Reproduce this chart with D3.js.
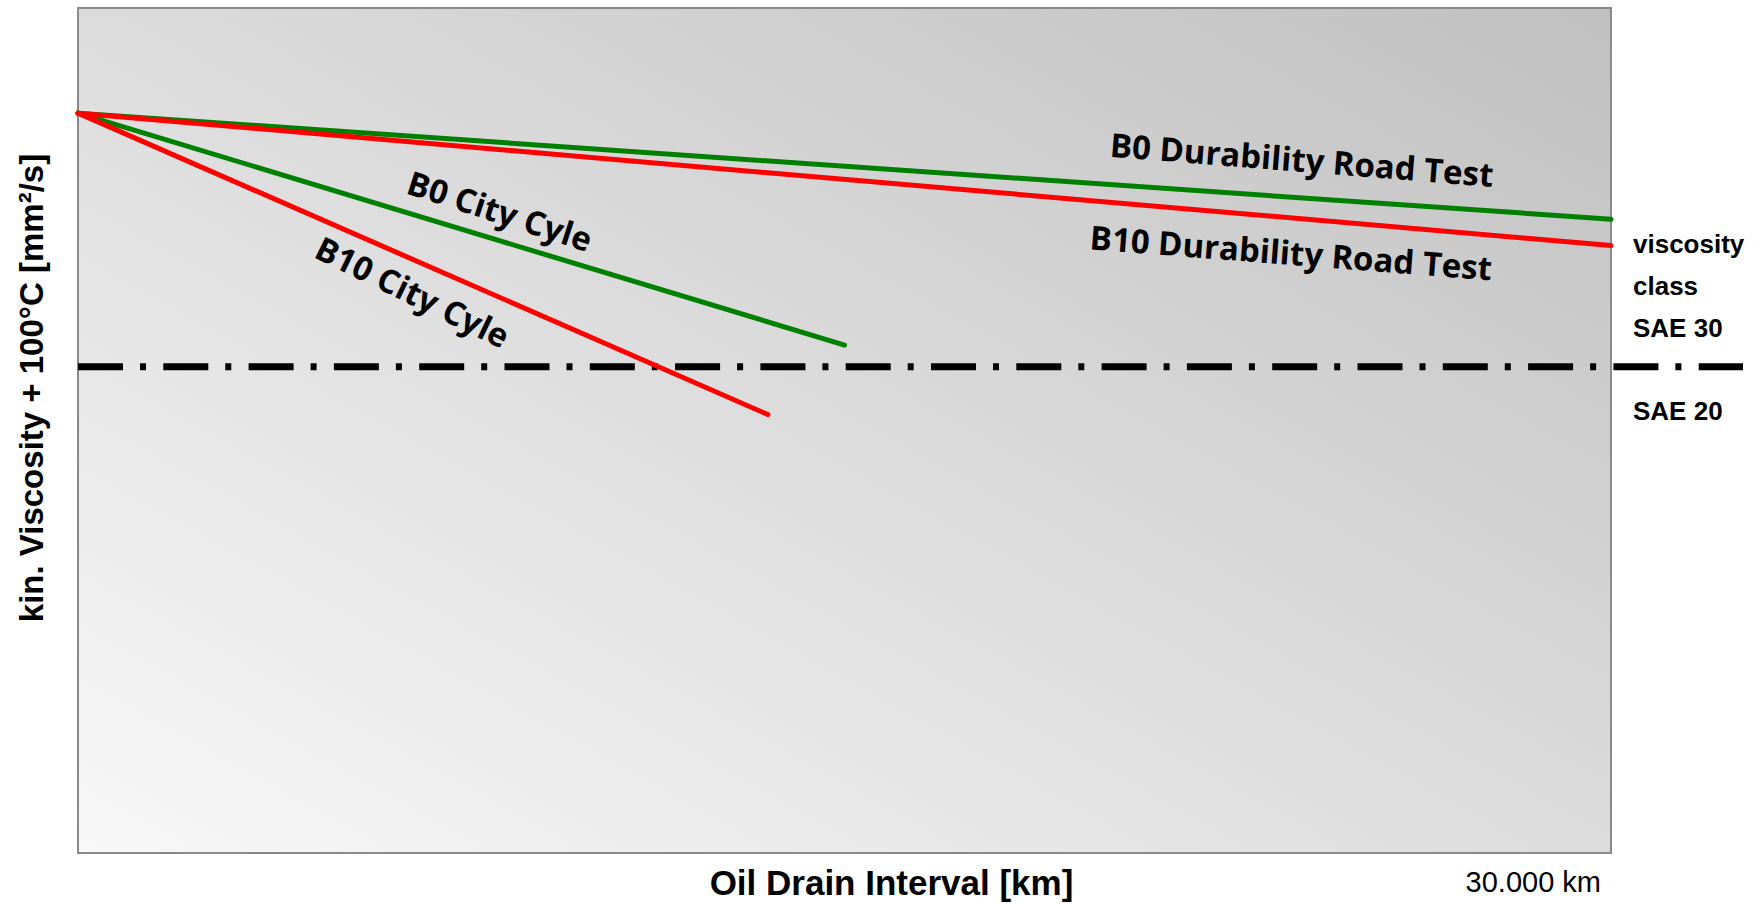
<!DOCTYPE html>
<html>
<head>
<meta charset="utf-8">
<script src="https://cdn.jsdelivr.net/npm/d3@7"></script>
<style>
  html, body { margin: 0; padding: 0; background: #fff; }
  #chart { width: 1764px; height: 904px; }
  .axis-title { font-family: "Liberation Sans", Arial, sans-serif; font-weight: bold; fill: #000; }
  .line-label { font-family: "Open Sans", sans-serif; font-weight: 700; fill: #000; }
</style>
</head>
<body>
<div id="chart"></div>
<script>
// Data (km, kin. viscosity mm²/s)
const seriesNames = ['B0 Durability Road Test', 'B10 Durability Road Test', 'B0 City Cyle', 'B10 City Cyle'];
const seriesKm = [[0, 30000], [0, 30000], [0, 15000], [0, 13500]];
const seriesVisc = [[11.88, 10.75], [11.88, 10.47], [11.88, 9.41], [11.88, 8.67]];
const sae30Limit = 9.18;
const classLabels = ['viscosity', 'class', 'SAE 30'];
const lowerClassLabel = 'SAE 20';
const xEndLabel = '30.000 km';

const width = 1764, height = 904;
const margin = { top: 8, right: 153, bottom: 51, left: 78 };
const chartWidth = width - margin.left - margin.right;
const chartHeight = height - margin.top - margin.bottom;

const colors = ['#008000', '#ff0000', '#008000', '#ff0000'];
// label placement: km along the line, pixel offset, rotation
const labelPlace = [
  { km: 23930, dy: -26, angle: 4.5 },
  { km: 23720, dy: 47, angle: 4.4 },
  { km: 8180, dy: -17, angle: 18 },
  { km: 6440, dy: 46, angle: 26 }
];

const svg = d3.select('#chart').append('svg')
  .attr('width', width)
  .attr('height', height);

const defs = svg.append('defs');
const grad = defs.append('linearGradient')
  .attr('id', 'bg')
  .attr('x1', 0).attr('y1', 1).attr('x2', 1).attr('y2', 0);
grad.append('stop').attr('offset', 0).attr('stop-color', '#f8f8f8');
grad.append('stop').attr('offset', 1).attr('stop-color', '#c0c0c0');

const xScale = d3.scaleLinear().domain([0, 30000]).range([0, chartWidth]);
const yScale = d3.scaleLinear().domain([4, 13]).range([chartHeight, 0]);

const g = svg.append('g')
  .attr('transform', `translate(${margin.left},${margin.top})`);

// plot background
g.append('rect')
  .attr('width', chartWidth)
  .attr('height', chartHeight)
  .attr('fill', 'url(#bg)')
  .attr('stroke', '#8a8a8a')
  .attr('stroke-width', 2);

// SAE 30 / SAE 20 boundary
g.append('line')
  .attr('x1', 0)
  .attr('x2', chartWidth + 132)
  .attr('y1', yScale(sae30Limit))
  .attr('y2', yScale(sae30Limit))
  .attr('stroke', '#000')
  .attr('stroke-width', 7)
  .attr('stroke-dasharray', '45,17,6,17.3');

const line = d3.line()
  .x(d => xScale(d[0]))
  .y(d => yScale(d[1]));

const series = seriesNames.map((name, i) => ({
  name,
  color: colors[i],
  points: seriesKm[i].map((k, j) => [k, seriesVisc[i][j]])
}));

// draw green first, red on top
const order = [0, 2, 1, 3];
g.selectAll('.series')
  .data(order.map(i => series[i]))
  .join('path')
  .attr('class', 'series')
  .attr('d', d => line(d.points))
  .attr('fill', 'none')
  .attr('stroke', d => d.color)
  .attr('stroke-width', 5)
  .attr('stroke-linecap', 'round');

// line labels
series.forEach((s, i) => {
  const p = labelPlace[i];
  const k0 = s.points[0], k1 = s.points[1];
  const v = k0[1] + (k1[1] - k0[1]) * (p.km - k0[0]) / (k1[0] - k0[0]);
  const x = xScale(p.km);
  const y = yScale(v) + p.dy;
  g.append('text')
    .attr('class', 'line-label')
    .attr('transform', `translate(${x},${y}) rotate(${p.angle})`)
    .attr('text-anchor', 'middle')
    .attr('font-size', 33)
    .text(s.name);
});

// right side class labels
const rightX = chartWidth + 22;
classLabels.forEach((t, i) => {
  g.append('text')
    .attr('class', 'axis-title')
    .attr('x', rightX)
    .attr('y', yScale(sae30Limit) - 114 + i * 42)
    .attr('font-size', 26)
    .text(t);
});
g.append('text')
  .attr('class', 'axis-title')
  .attr('x', rightX)
  .attr('y', yScale(sae30Limit) + 53)
  .attr('font-size', 26)
  .text(lowerClassLabel);

// axis titles
svg.append('text')
  .attr('class', 'axis-title')
  .attr('x', margin.left + chartWidth / 2 + 47)
  .attr('y', 895)
  .attr('text-anchor', 'middle')
  .attr('font-size', 35)
  .text('Oil Drain Interval [km]');

svg.append('text')
  .attr('x', margin.left + chartWidth - 10)
  .attr('y', 892)
  .attr('text-anchor', 'end')
  .attr('font-family', '"Liberation Sans", Arial, sans-serif')
  .attr('font-size', 29)
  .text(xEndLabel);

svg.append('text')
  .attr('class', 'axis-title')
  .attr('transform', `translate(43,388) rotate(-90)`)
  .attr('text-anchor', 'middle')
  .attr('font-size', 33)
  .text('kin. Viscosity + 100°C [mm²/s]');
</script>
</body>
</html>
